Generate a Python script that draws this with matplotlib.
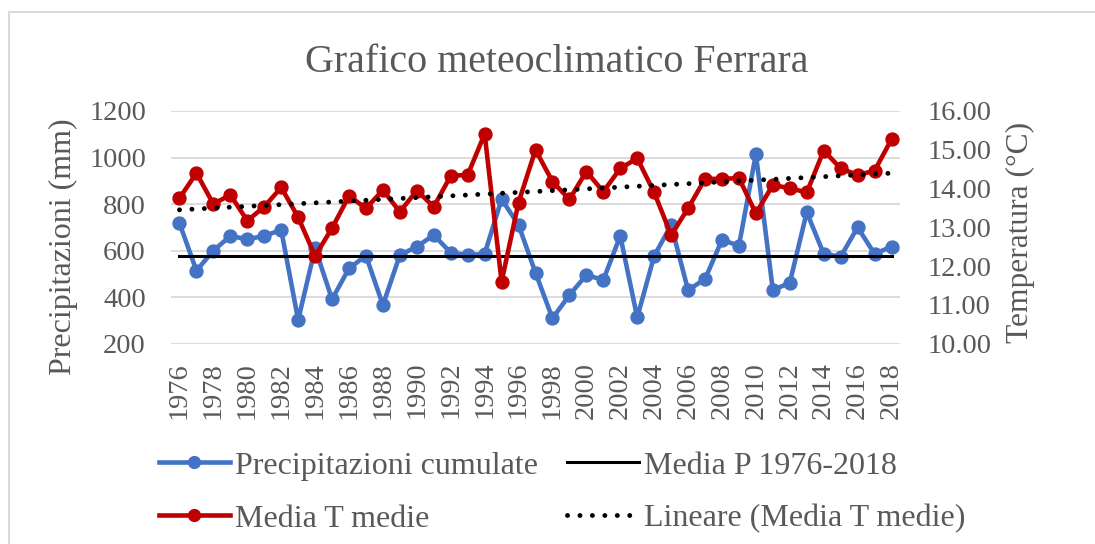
import matplotlib.pyplot as plt
import numpy as np
from matplotlib.patches import Rectangle

years = list(range(1976, 2019))
precip = [718, 514, 600, 663, 649, 663, 689, 302, 610, 391,
          524, 578, 366, 581, 617, 667, 591, 581, 586, 821,
          710, 505, 309, 409, 495, 474, 663, 313, 577, 710,
          430, 478, 646, 621, 1015, 430, 462, 765, 586, 574,
          700, 586, 617]
temp = [13.75, 14.40, 13.60, 13.84, 13.17, 13.53, 14.03, 13.26, 12.26, 12.98,
        13.81, 13.49, 13.96, 13.40, 13.95, 13.53, 14.33, 14.35, 15.41, 11.60,
        13.64, 15.00, 14.18, 13.72, 14.44, 13.92, 14.52, 14.78, 13.90, 12.80,
        13.49, 14.25, 14.25, 14.27, 13.36, 14.09, 14.01, 13.90, 14.98, 14.52,
        14.35, 14.46, 15.27]
left_ticks = [200, 400, 600, 800, 1000, 1200]
right_ticks = [10, 11, 12, 13, 14, 15, 16]

plt.rcParams['font.family'] = ['Liberation Serif', 'DejaVu Serif']
grey = '#595959'
blue = '#4472C4'
red = '#C00000'

x = np.array(years)
p_mean = np.mean(precip)
coef = np.polyfit(x, temp, 1)
trend = np.polyval(coef, x)

fig = plt.figure(figsize=(10.95, 5.44), dpi=100)
fig.patches.append(Rectangle((9 / 1095, -0.1), 1.2, (544 - 12) / 544 + 0.1,
                             transform=fig.transFigure, fill=False,
                             edgecolor='#d9d9d9', linewidth=1.5))
ax = fig.add_axes([171 / 1095, (544 - 343.7) / 544, 729 / 1095, 232.7 / 544])
ax2 = ax.twinx()

dots = (0, (0.01, 2.55))

# asse sinistro: precipitazioni
l1, = ax.plot(x, precip, color=blue, linewidth=3.3, marker='o', markersize=9.3, zorder=3)
l2, = ax.plot(x, [p_mean] * len(x), color='black', linewidth=2.2, zorder=4)
ax.set_ylim(200, 1200)
ax.set_yticks(left_ticks)
ax.set_xlim(1975.5, 2018.5)
ax.set_xticks(years[::2])
ax.set_xticklabels([str(y) for y in years[::2]], rotation=90)
ax.grid(axis='y', color='#d9d9d9', linewidth=1.3)
ax.set_axisbelow(True)
ax.set_ylabel('Precipitazioni (mm)', fontsize=23, color=grey, va='center')
ax.yaxis.set_label_coords(-0.148, 0.416)

# asse destro: temperatura
l3, = ax2.plot(x, temp, color=red, linewidth=3.3, marker='o', markersize=9.3, zorder=3)
l4, = ax2.plot(x, trend, color='black', linewidth=3.5, linestyle=dots,
               dash_capstyle='round', zorder=4)
ax2.set_ylim(10, 16)
ax2.set_yticks(right_ticks)
ax2.set_yticklabels(['%.2f' % t for t in right_ticks])
ax2.set_ylabel('Temperatura (°C)', fontsize=22.7, color=grey, va='center')
ax2.yaxis.set_label_coords(1.165, 0.48)

for a in (ax, ax2):
    for s in a.spines.values():
        s.set_visible(False)
    a.tick_params(length=0, labelsize=20.5, colors=grey)
ax.tick_params(axis='y', pad=18)
ax.tick_params(axis='x', pad=13)
ax2.tick_params(axis='y', pad=19.5)

fig.text(0.508, 0.886, 'Grafico meteoclimatico Ferrara', ha='center', va='center',
         fontsize=28.8, color=grey)

leg = fig.legend([l1, l3, l2, l4],
                 ['Precipitazioni cumulate', 'Media T medie',
                  'Media P 1976-2018', 'Lineare (Media T medie)'],
                 loc='center', bbox_to_anchor=(0.513, 0.095), ncol=2, frameon=False,
                 fontsize=23, handlelength=2.25, handletextpad=0.15, columnspacing=0.9,
                 labelspacing=0.74, labelcolor=grey)
for h in leg.legend_handles[:2]:
    h.set_markersize(8.5)

fig.savefig('out.png', dpi=100)
